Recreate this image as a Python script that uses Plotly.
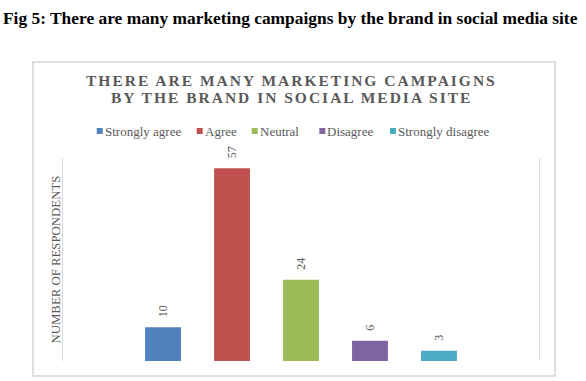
import plotly.graph_objects as go

categories = ["Strongly agree", "Agree", "Neutral", "Disagree", "Strongly disagree"]
values = [10, 57, 24, 6, 3]
colors = ["#4f81bd", "#c0504d", "#9bbb59", "#8064a2", "#4bacc6"]

fig_caption = "Fig 5: There are many marketing campaigns by the brand in social media site"
chart_title_lines = ["THERE ARE MANY MARKETING CAMPAIGNS", "BY THE BRAND IN SOCIAL MEDIA SITE"]
y_title = "NUMBER OF RESPONDENTS"

FONT = "Liberation Serif, Times New Roman, serif"
GRAY = "#595959"

# plot-area geometry in pixels
WIDTH, HEIGHT = 586, 381
L, R, T, B = 63, 47, 158, 20
W, H = WIDTH - L - R, HEIGHT - T - B


def px_x(x):
    return (x - L) / W


def px_y(y):
    return (HEIGHT - B - y) / H


fig = go.Figure()
for cat, val, col in zip(categories, values, colors):
    fig.add_trace(go.Bar(x=[cat], y=[val], name=cat, showlegend=False,
                         marker=dict(color=col, line=dict(width=0))))

annotations = []
shapes = []

# chart title (two lines, Excel-style letter spaced)
for line, ty in zip(chart_title_lines, [80, 97.5]):
    annotations.append(dict(x=px_x(291.5), y=px_y(ty), xref="paper", yref="paper",
                            text=f"<b>{line}</b>", showarrow=False, xanchor="center", yanchor="middle",
                            font=dict(family=FONT, size=15.5, color=GRAY)))

for cat, val in zip(categories, values):
    annotations.append(dict(x=cat, y=val, xref="x", yref="y", text=str(val), textangle=-90,
                            showarrow=False, yanchor="bottom", yshift=8,
                            font=dict(family=FONT, size=12, color=GRAY)))
annotations.append(dict(x=px_x(1), y=px_y(18), xref="paper", yref="paper",
                        text=f"<b>{fig_caption}</b>",
                        showarrow=False, xanchor="left", yanchor="middle",
                        font=dict(family=FONT, size=17.4, color="#000000")))
# y-axis title
annotations.append(dict(x=px_x(55), y=0.5, xref="paper", yref="paper", text=y_title, textangle=-90,
                        showarrow=False, xanchor="center", yanchor="middle",
                        font=dict(family=FONT, size=12.8, color=GRAY)))

# manual legend (Excel style: small square + label)
legend_square_left = [96.7, 196.7, 251.7, 319.3, 390.0]
legend_y = 131
for cat, col, sx in zip(categories, colors, legend_square_left):
    shapes.append(dict(type="rect", xref="paper", yref="paper",
                       x0=px_x(sx), x1=px_x(sx + 6), y0=px_y(legend_y + 3), y1=px_y(legend_y - 3),
                       line=dict(width=0), fillcolor=col))
    annotations.append(dict(x=px_x(sx + 6), y=px_y(legend_y), xref="paper", yref="paper",
                            text=cat, showarrow=False, xanchor="left", yanchor="middle",
                            font=dict(family=FONT, size=13, color=GRAY)))

# chart border
shapes.append(dict(type="rect", xref="paper", yref="paper",
                   x0=px_x(33), x1=px_x(555), y0=px_y(376), y1=px_y(62),
                   line=dict(color="#d4d4d4", width=1.5), fillcolor="rgba(0,0,0,0)", layer="below"))

fig.update_layout(
    width=WIDTH, height=HEIGHT,
    margin=dict(l=L, r=R, t=T, b=B, pad=0, autoexpand=False),
    paper_bgcolor="white", plot_bgcolor="white",
    barmode="group", bargap=0.48,
    showlegend=False,
    xaxis=dict(type="category", range=[-1.45, 5.45], showticklabels=False, showgrid=False,
               zeroline=False, showline=False, ticks="", automargin=False),
    yaxis=dict(range=[0, 60], showticklabels=False, showgrid=False, zeroline=False,
               showline=True, mirror=True, linecolor="#d9d9d9", linewidth=1, ticks="", automargin=False),
    annotations=annotations,
    shapes=shapes,
)

post = """
document.body.style.margin='0';
document.querySelectorAll('g.annotation[data-index="0"] text, g.annotation[data-index="1"] text')
  .forEach(function(t){t.style.letterSpacing='2px';});
"""
fig.write_html("out.html", post_script=post, config={"displayModeBar": False})
